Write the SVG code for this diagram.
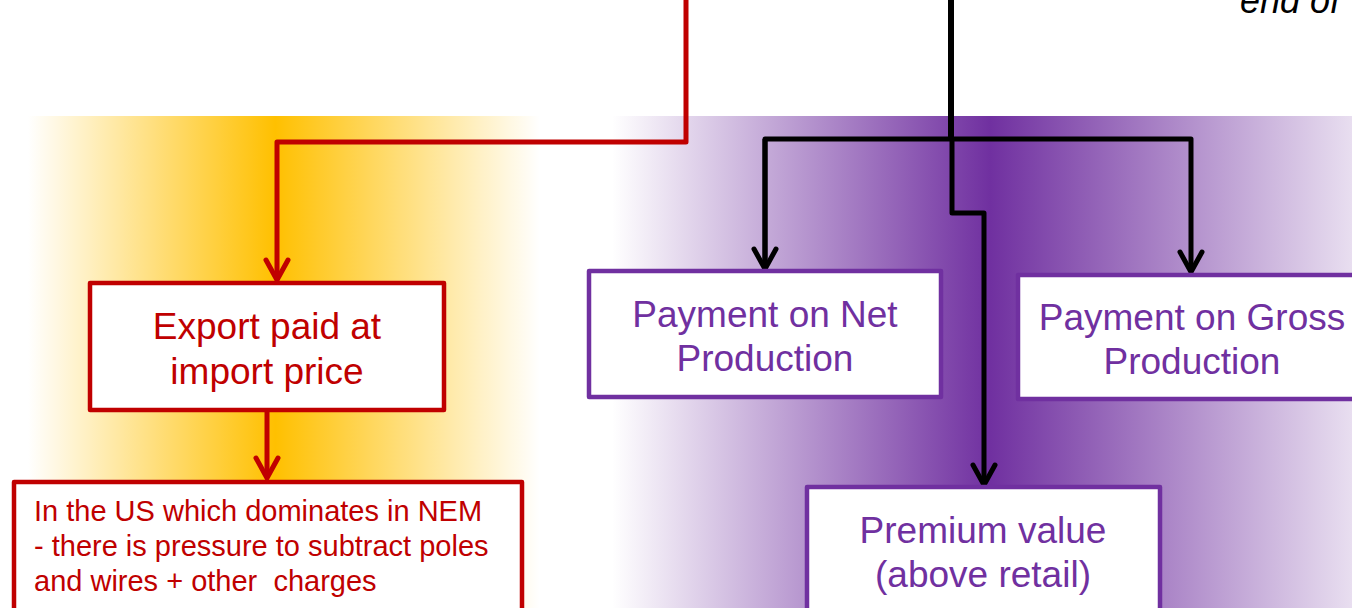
<svg xmlns="http://www.w3.org/2000/svg" width="1352" height="608" viewBox="0 0 1352 608">
<defs>
<linearGradient id="gold" gradientUnits="userSpaceOnUse" x1="28" y1="0" x2="540" y2="0">
<stop offset="0" stop-color="#FFC000" stop-opacity="0"/>
<stop offset="0.483" stop-color="#FFC000" stop-opacity="1"/>
<stop offset="1" stop-color="#FFC000" stop-opacity="0"/>
</linearGradient>
<linearGradient id="purp" gradientUnits="userSpaceOnUse" x1="612" y1="0" x2="1420" y2="0">
<stop offset="0" stop-color="#7030A0" stop-opacity="0"/>
<stop offset="0.468" stop-color="#7030A0" stop-opacity="1"/>
<stop offset="1" stop-color="#7030A0" stop-opacity="0"/>
</linearGradient>
<marker id="arR" viewBox="0 0 30 30" refX="15" refY="27" markerWidth="30" markerHeight="30" markerUnits="userSpaceOnUse" orient="0">
<polyline points="4,7 15,27 26,7" fill="none" stroke="#C00000" stroke-width="5" stroke-linecap="round" stroke-linejoin="miter"/>
</marker>
<marker id="arK" viewBox="0 0 30 30" refX="15" refY="27" markerWidth="30" markerHeight="30" markerUnits="userSpaceOnUse" orient="0">
<polyline points="4,7 15,27 26,7" fill="none" stroke="#000" stroke-width="5" stroke-linecap="round" stroke-linejoin="miter"/>
</marker>
</defs>
<style>
.bx{fill:#fff;stroke-width:4.5;stroke-linejoin:round}
.red{stroke:#C00000}
.pur{stroke:#7030A0}
.t{font-family:"Liberation Sans",Arial,sans-serif;text-anchor:middle}
.tr{fill:#C00000}
.tp{fill:#7030A0}
.cr{fill:none;stroke:#C00000;stroke-width:5;stroke-linejoin:round}
.ck{fill:none;stroke:#000;stroke-width:5;stroke-linejoin:round}
</style>
<rect x="0" y="0" width="1352" height="608" fill="#fff"/>
<g id="bands">
<rect x="28" y="116" width="512" height="492" fill="url(#gold)"/>
<rect x="612" y="116" width="740" height="492" fill="url(#purp)"/>
</g>
<text x="1240" y="13" font-family="Liberation Sans,Arial,sans-serif" font-style="italic" font-size="36" fill="#000">end of</text>
<g id="connectors">
<polyline class="cr" points="686,0 686,142 277,142 277,280" marker-end="url(#arR)"/>
<line class="cr" x1="267" y1="410" x2="267" y2="478" marker-end="url(#arR)"/>
<line x1="951" y1="0" x2="951" y2="139" stroke="#000" stroke-width="6"/>
<polyline class="ck" points="765,269 765,139 1191,139 1191,272" marker-end="url(#arK)"/>
<polyline class="ck" points="765,139 765,269" marker-end="url(#arK)"/>
<polyline class="ck" points="952,139 952,213 984,213 984,485" marker-end="url(#arK)"/>
</g>
<g id="export">
<rect class="bx red" x="90" y="283" width="354" height="127"/>
<text class="t tr" font-size="37"><tspan x="267" y="339">Export paid at</tspan><tspan x="267" y="384">import price</tspan></text>
</g>
<g id="us">
<rect class="bx red" x="14" y="482" width="508" height="140"/>
<text font-family="Liberation Sans,Arial,sans-serif" font-size="29" fill="#C00000" xml:space="preserve"><tspan x="34" y="521">In the US which dominates in NEM</tspan><tspan x="34" y="556">- there is pressure to subtract poles</tspan><tspan x="34" y="591">and wires + other  charges</tspan></text>
</g>
<g id="net">
<rect class="bx pur" x="589" y="271" width="352" height="126"/>
<text class="t tp" font-size="37"><tspan x="765" y="327">Payment on Net</tspan><tspan x="765" y="371">Production</tspan></text>
</g>
<g id="gross">
<rect class="bx pur" x="1018" y="275" width="350" height="124"/>
<text class="t tp" font-size="37"><tspan x="1192" y="330">Payment on Gross</tspan><tspan x="1192" y="374">Production</tspan></text>
</g>
<g id="premium">
<rect class="bx pur" x="807" y="487" width="353" height="140"/>
<text class="t tp" font-size="37"><tspan x="983" y="543">Premium value</tspan><tspan x="983" y="587">(above retail)</tspan></text>
</g>
</svg>
